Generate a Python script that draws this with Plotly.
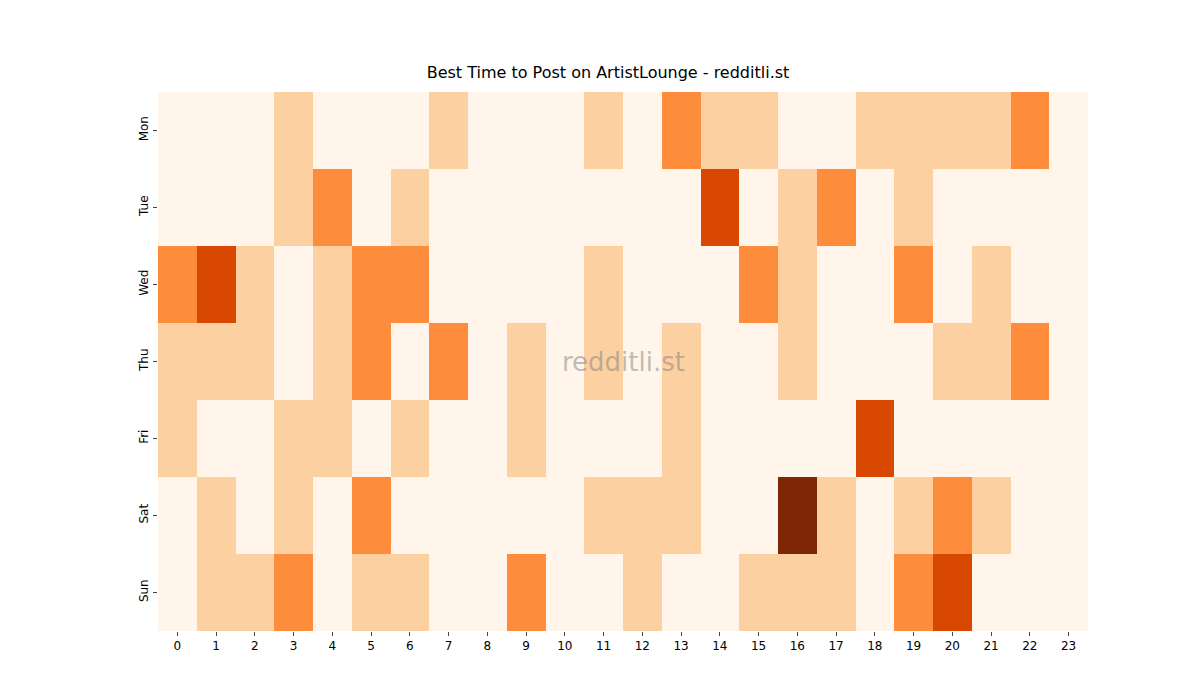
import plotly.graph_objects as go

hours = list(range(24))
days = ["Mon", "Tue", "Wed", "Thu", "Fri", "Sat", "Sun"]

mon = [0, 0, 0, 1, 0, 0, 0, 1, 0, 0, 0, 1, 0, 2, 1, 1, 0, 0, 1, 1, 1, 1, 2, 0]
tue = [0, 0, 0, 1, 2, 0, 1, 0, 0, 0, 0, 0, 0, 0, 3, 0, 1, 2, 0, 1, 0, 0, 0, 0]
wed = [2, 3, 1, 0, 1, 2, 2, 0, 0, 0, 0, 1, 0, 0, 0, 2, 1, 0, 0, 2, 0, 1, 0, 0]
thu = [1, 1, 1, 0, 1, 2, 0, 2, 0, 1, 0, 1, 0, 1, 0, 0, 1, 0, 0, 0, 1, 1, 2, 0]
fri = [1, 0, 0, 1, 1, 0, 1, 0, 0, 1, 0, 0, 0, 1, 0, 0, 0, 0, 3, 0, 0, 0, 0, 0]
sat = [0, 1, 0, 1, 0, 2, 0, 0, 0, 0, 0, 1, 1, 1, 0, 0, 4, 1, 0, 1, 2, 1, 0, 0]
sun = [0, 1, 1, 2, 0, 1, 1, 0, 0, 2, 0, 0, 1, 0, 0, 1, 1, 1, 0, 2, 3, 0, 0, 0]

# discrete steps of matplotlib's Oranges
colors = [[0.0, "#fff5eb"], [0.125, "#fff5eb"], [0.125, "#fdd0a2"], [0.375, "#fdd0a2"],
          [0.375, "#fd8d3c"], [0.625, "#fd8d3c"], [0.625, "#d94801"], [0.875, "#d94801"],
          [0.875, "#7f2704"], [1.0, "#7f2704"]]

fig = go.Figure(go.Heatmap(
    z=[mon, tue, wed, thu, fri, sat, sun], x=hours, y=days,
    colorscale=colors, zmin=0, zmax=4, showscale=False, xgap=0, ygap=0,
))

fig.update_layout(
    width=1200, height=700,
    margin=dict(l=150, r=120, t=84, b=77),
    paper_bgcolor="white", plot_bgcolor="white",
    font=dict(family="DejaVu Sans", size=12, color="black"),
    title=dict(text="Best Time to Post on ArtistLounge - redditli.st", x=0.5, xanchor="center",
               y=0.9, yanchor="bottom", font=dict(size=16)),
    annotations=[dict(text="redditli.st", x=0.5, y=0.5, xref="paper", yref="paper",
                      showarrow=False, font=dict(size=26, color="rgba(128,128,128,0.5)"))],
)
fig.update_xaxes(tickmode="array", tickvals=hours, ticks="outside", ticklen=4,
                 showgrid=False, zeroline=False)
fig.update_yaxes(autorange="reversed", tickangle=-90, ticks="outside", ticklen=4,
                 showgrid=False, zeroline=False)

fig.write_html("out.html")
